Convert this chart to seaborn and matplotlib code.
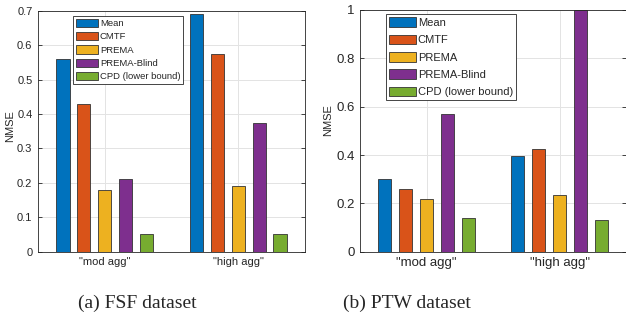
import numpy as np
import pandas as pd
import matplotlib
matplotlib.use("Agg")
import matplotlib.pyplot as plt
from matplotlib.ticker import FuncFormatter, MultipleLocator
import seaborn as sns

# values
groups = ['"mod agg"', '"high agg"']
methods = ["Mean", "CMTF", "PREMA", "PREMA-Blind", "CPD (lower bound)"]
fsf_mod = [0.561, 0.429, 0.178, 0.210, 0.050]
fsf_high = [0.689, 0.573, 0.190, 0.375, 0.050]
ptw_mod = [0.299, 0.259, 0.217, 0.570, 0.138]
ptw_high = [0.396, 0.425, 0.233, 1.000, 0.131]

palette = {
    "Mean": "#0072BD",
    "CMTF": "#D95319",
    "PREMA": "#EDB120",
    "PREMA-Blind": "#7E2F8E",
    "CPD (lower bound)": "#77AC30",
}


def make_df(mod, high):
    df = pd.DataFrame()
    df["group"] = [groups[0]] * 5 + [groups[1]] * 5
    df["method"] = methods * 2
    df["nmse"] = list(mod) + list(high)
    return df


sns.set_style("ticks")
plt.rcParams["font.family"] = ["Liberation Sans", "DejaVu Sans"]

fig = plt.figure(figsize=(6.26, 3.2), dpi=100)
ax1 = fig.add_axes([38 / 626, 1 - 251.7 / 320, 267 / 626, 241 / 320])
ax2 = fig.add_axes([360 / 626, 1 - 251.7 / 320, 266 / 626, 241.7 / 320])

# ax, data, ymax, step, tick size, legend size, anchor, labelspacing,
# ylabel size, ylabel coords
panels = [
    (ax1, make_df(fsf_mod, fsf_high), 0.7, 0.1, 8, 6.8, (0.131, 0.978), 0.42,
     8, (-0.086, 0.52)),
    (ax2, make_df(ptw_mod, ptw_high), 1.0, 0.2, 9.5, 8, (0.098, 0.983), 0.6,
     8, (-0.10, 0.545)),
]

for ax, df, ymax, step, fs, lfs, anchor, lsp, yfs, ycoords in panels:
    sns.barplot(data=df, x="group", y="nmse", hue="method", palette=palette,
                hue_order=methods, order=groups, width=0.785, gap=0.36,
                edgecolor="#333333", linewidth=0.6, saturation=1, ax=ax,
                legend=True, errorbar=None)
    ax.set_xlim(-0.5, 1.5)
    ax.set_ylim(0, ymax)
    ax.yaxis.set_major_locator(MultipleLocator(step))
    ax.yaxis.set_major_formatter(FuncFormatter(lambda v, p: "%g" % round(v, 3)))
    ax.grid(True, color="#e3e3e3", linewidth=0.7)
    ax.set_axisbelow(True)
    ax.tick_params(direction="in", length=3, width=0.6, labelsize=fs,
                   colors="#262626", top=True, right=True, pad=4)
    ax.tick_params(axis="x", length=0)
    for s in ax.spines.values():
        s.set_visible(True)
        s.set_color("#262626")
        s.set_linewidth(0.6)
    ax.set_xlabel("")
    ax.set_ylabel("NMSE", fontsize=yfs, color="#262626")
    ax.yaxis.set_label_coords(*ycoords)
    leg = ax.legend(loc="upper left", bbox_to_anchor=anchor, borderaxespad=0,
                    fontsize=lfs, fancybox=False, framealpha=1,
                    edgecolor="#262626", handlelength=2.4, handleheight=0.95,
                    handletextpad=0.15, labelspacing=lsp, borderpad=0.3)
    leg.get_frame().set_linewidth(0.6)

fig.text(137 / 626, 1 - 303 / 320, "(a) FSF dataset", ha="center", va="center",
         fontsize=14, family=["Liberation Serif", "DejaVu Serif"])
fig.text(407 / 626, 1 - 303 / 320, "(b) PTW dataset", ha="center", va="center",
         fontsize=14, family=["Liberation Serif", "DejaVu Serif"])

plt.savefig("out.png", dpi=100)
